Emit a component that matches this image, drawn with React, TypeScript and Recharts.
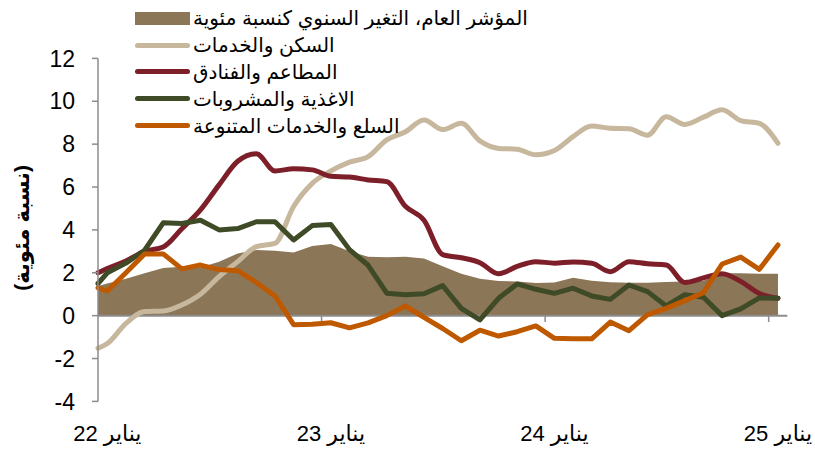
import React from "react"
import {
  ComposedChart,
  Area,
  Line,
  XAxis,
  YAxis,
  ReferenceLine,
} from "recharts"

// الأشهر: نقطة البداية ثم يناير 22 ... يناير 25
const monthIndex = [-0.5, ...Array.from({ length: 37 }, (_, i) => i)]

const tickMonths = [0, 12, 24, 36]
const tickLabels = ["يناير 22", "يناير 23", "يناير 24", "يناير 25"]
const tickBoundaries = [11.5, 23.5, 35.5]
const yTicks = [-4, -2, 0, 2, 4, 6, 8, 10, 12]

const general = [
  1.38, 1.5, 1.72, 1.98, 2.22, 2.28, 2.25, 2.52, 2.9, 3.06, 3.03, 2.95, 3.25,
  3.34, 3.0, 2.75, 2.72, 2.75, 2.67, 2.3, 1.95, 1.72, 1.62, 1.59, 1.52, 1.55,
  1.77, 1.63, 1.56, 1.54, 1.54, 1.57, 1.59, 1.63, 1.98, 1.98, 1.95, 1.95,
]
const housing = [
  -1.52, -1.3, -0.36, 0.19, 0.22, 0.5, 1.0, 1.82, 2.52, 3.22, 3.37, 5.09, 6.17,
  6.75, 7.16, 7.42, 8.2, 8.58, 9.13, 8.68, 8.97, 8.15, 7.8, 7.76, 7.5, 7.7,
  8.35, 8.85, 8.74, 8.72, 8.42, 9.28, 8.92, 9.26, 9.6, 9.1, 8.97, 8.04,
]
const restaurants = [
  2.0, 2.2, 2.55, 3.0, 3.2, 4.05, 4.93, 6.1, 7.2, 7.55, 6.75, 6.85, 6.8, 6.5,
  6.47, 6.33, 6.25, 5.1, 4.45, 2.85, 2.7, 2.47, 1.95, 2.3, 2.52, 2.45, 2.5,
  2.44, 2.05, 2.52, 2.42, 2.36, 1.55, 1.76, 1.96, 1.6, 1.03, 0.81,
]
const food = [
  1.5, 2.0, 2.45, 3.05, 4.33, 4.3, 4.45, 4.0, 4.06, 4.38, 4.38, 3.53, 4.2,
  4.25, 3.08, 2.35, 1.05, 0.98, 1.02, 1.4, 0.34, -0.2, 0.81, 1.48, 1.23, 1.04,
  1.28, 0.92, 0.76, 1.43, 1.12, 0.45, 0.98, 0.86, 0.0, 0.32, 0.83, 0.81,
]
const goods = [
  1.3, 1.15, 2.0, 2.88, 2.88, 2.18, 2.36, 2.15, 2.1, 1.55, 0.92, -0.42, -0.4,
  -0.33, -0.57, -0.34, 0.0, 0.45, -0.08, -0.6, -1.17, -0.68, -0.95, -0.75,
  -0.48, -1.06, -1.08, -1.08, -0.3, -0.7, 0.05, 0.34, 0.7, 1.07, 2.41, 2.73,
  2.16, 3.3,
]

const series = [
  { key: "general", name: "المؤشر العام، التغير السنوي كنسبة مئوية", color: "#8b7657", area: true },
  { key: "housing", name: "السكن والخدمات", color: "#c6b79d", smooth: true },
  { key: "restaurants", name: "المطاعم والفنادق", color: "#7d1f29", smooth: true },
  { key: "food", name: "الاغذية والمشروبات", color: "#3f4a27" },
  { key: "goods", name: "السلع والخدمات المتنوعة", color: "#bf5900" },
]

const data = monthIndex.map((m, i) => ({
  m,
  general: general[i],
  housing: housing[i],
  restaurants: restaurants[i],
  food: food[i],
  goods: goods[i],
}))

const font = "'Liberation Sans', 'DejaVu Sans', sans-serif"
const axisGray = "#8c8c8c"

function Legende() {
  return (
    <div
      style={{
        position: "absolute",
        left: 135,
        top: 5,
        fontFamily: font,
        fontSize: 20,
        color: "#000",
      }}
    >
      {series.map((s) => (
        <div
          key={s.key}
          style={{ display: "flex", alignItems: "center", height: 26.8 }}
        >
          <div
            style={{
              width: 55,
              height: s.area ? 13 : 5,
              borderRadius: s.area ? 0 : 3,
              background: s.color,
              marginRight: 3,
            }}
          />
          <span dir="rtl" style={{ whiteSpace: "nowrap", lineHeight: "22px" }}>
            {s.name}
          </span>
        </div>
      ))}
    </div>
  )
}

export default function App() {
  return (
    <div style={{ position: "absolute", left: 0, top: 0, width: 815, height: 451, background: "#fff" }}>
      <ComposedChart
        width={815}
        height={451}
        data={data}
        margin={{ top: 58.4, right: 27.7, bottom: 0, left: 0 }}
      >
        <XAxis
          dataKey="m"
          type="number"
          domain={[-0.5, 36.5]}
          ticks={tickMonths}
          tickFormatter={(v) => tickLabels[tickMonths.indexOf(v)] ?? ""}
          axisLine={false}
          tickLine={false}
          tickSize={0}
          tickMargin={24}
          height={49.6}
          tick={{ fill: "#000", fontSize: 22, fontFamily: font, direction: "rtl" } as any}
          interval={0}
        />
        <YAxis
          type="number"
          domain={[-4, 12]}
          ticks={yTicks}
          width={98}
          stroke={axisGray}
          strokeWidth={1.5}
          tickSize={6}
          tickMargin={17}
          tick={{ fill: "#000", fontSize: 23, fontFamily: font }}
          interval={0}
          label={{
            content: ({ viewBox }: any) => {
              const cx = viewBox.x + 22
              const cy = viewBox.y + viewBox.height / 2 - 2
              return (
                <text
                  x={cx}
                  y={cy}
                  transform={`rotate(-90 ${cx} ${cy})`}
                  textAnchor="middle"
                  dominantBaseline="central"
                  direction="rtl"
                  fontFamily={font}
                  fontWeight="bold"
                  fontSize={21}
                  fill="#000"
                >
                  (نسبة مئوية)
                </text>
              )
            },
          }}
        />
        <Area
          dataKey="general"
          type="linear"
          fill="#8b7657"
          fillOpacity={1}
          stroke="none"
          isAnimationActive={false}
        />
        <ReferenceLine y={0} stroke={axisGray} strokeWidth={2} />
        {tickBoundaries.map((b) => (
          <ReferenceLine
            key={b}
            segment={[
              { x: b, y: 0 },
              { x: b, y: -0.3 },
            ]}
            stroke={axisGray}
            strokeWidth={1.5}
          />
        ))}
        {series
          .filter((s) => !s.area)
          .map((s) => (
            <Line
              key={s.key}
              dataKey={s.key}
              type={s.smooth ? "monotone" : "linear"}
              stroke={s.color}
              strokeWidth={5}
              strokeLinejoin="round"
              strokeLinecap="round"
              dot={false}
              activeDot={false}
              isAnimationActive={false}
            />
          ))}
      </ComposedChart>
      <Legende />
    </div>
  )
}
